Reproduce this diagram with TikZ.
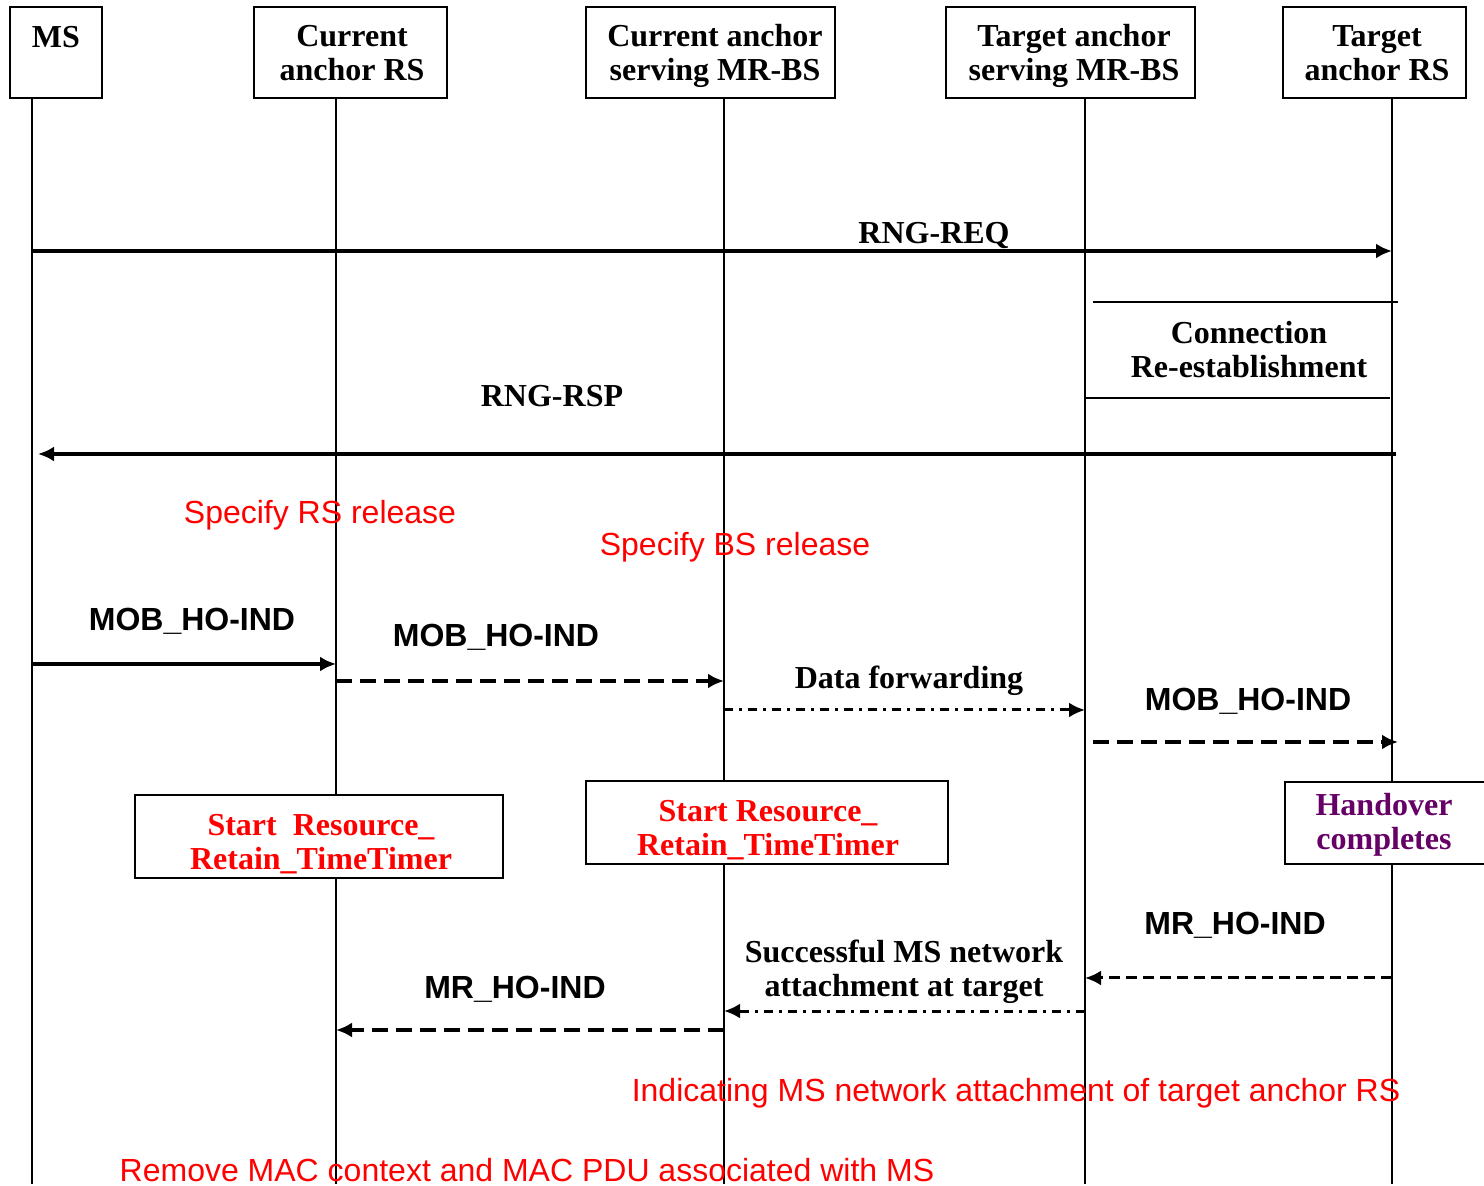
\documentclass[tikz,border=0pt]{standalone}
\usepackage{fontspec}
\setmainfont{Liberation Serif}
\setsansfont{Liberation Sans}
\usetikzlibrary{arrows.meta}
\definecolor{hopurple}{RGB}{102,0,102}

\begin{document}
\begin{tikzpicture}[x=0.5pt, y=-0.5pt,
    box/.style={line width=1pt},
    lbl/.style={align=center, text height=12pt, text depth=5pt, font=\bfseries\fontsize{16}{17}\selectfont},
    mlbl/.style={align=center, font=\bfseries\fontsize{16}{17}\selectfont},
    slbl/.style={text height=12pt, text depth=5pt, font=\sffamily\bfseries\fontsize{16}{17}\selectfont},
    note/.style={text=red, text height=12pt, text depth=5pt, font=\sffamily\fontsize{16}{17}\selectfont},
    life/.style={line width=0.9pt},
    msg/.style={line width=1.6pt, -{Latex[length=8pt,width=7.5pt]}},
    dmsg/.style={msg, dash pattern=on 8pt off 4pt},
    ddmsg/.style={msg, line width=1.5pt, dash pattern=on 4.5pt off 3pt on 1.5pt off 3pt}]
      \useasboundingbox (0,0) rectangle (1484,1186);

      \coordinate (ms) at (32,0);
      \coordinate (crs) at (336,0);
      \coordinate (cbs) at (724,0);
      \coordinate (tbs) at (1085,0);
      \coordinate (trs) at (1392,0);
      \foreach \n in {ms,crs,cbs,tbs,trs}
        \draw[life] (\n |- 0,98) -- (\n |- 0,1184);

      \draw[box] (10,7) rectangle (102,98);
      \draw[box] (254,7) rectangle (447,98);
      \draw[box] (586,7) rectangle (835,98);
      \draw[box] (946,7) rectangle (1195,98);
      \draw[box] (1283,7) rectangle (1466,98);
      \node[lbl] (mshead) at (56,41) {MS};
      \node[mlbl] (crshead) at (352,56.5) {\strut Current\\\strut anchor RS};
      \node[mlbl] (cbshead) at (715,56.5) {\strut Current anchor\\\strut serving MR-BS};
      \node[mlbl] (tbshead) at (1074,56.5) {\strut Target anchor\\\strut serving MR-BS};
      \node[mlbl] (trshead) at (1377,56.5) {\strut Target\\\strut anchor RS};

      \node[lbl] (rngreq) at (934,237) {RNG-REQ};
      \draw[msg] (ms |- 0,251) -- (trs |- 0,251);

      \draw[box] (tbs |- 0,302) ++(8,0) -- (1398,302);
      \draw[box] (tbs |- 0,398) -- (1390,398);
      \node[mlbl] (reest) at (1249,354) {\strut Connection\\\strut Re-establishment};

      \node[lbl] (rngrsp) at (552,400) {RNG-RSP};
      \draw[msg, shorten <=-2pt, shorten >=3pt] (trs |- 0,454) -- (ms |- 0,454);

      \node[note] (rsrel) at (320,517) {Specify RS release};
      \node[note] (bsrel) at (735,549) {Specify BS release};

      \node[slbl] (hoind1) at (192,624) {MOB\_HO-IND};
      \draw[msg] (ms |- 0,664) -- (crs |- 0,664);
      \node[slbl] (hoind2) at (496,640) {MOB\_HO-IND};
      \draw[dmsg] (crs |- 0,681) -- (cbs |- 0,681);
      \node[lbl] (fwd) at (909,682) {Data forwarding};
      \draw[ddmsg] (cbs |- 0,710) -- (tbs |- 0,710);
      \node[slbl] (hoind3) at (1248,704) {MOB\_HO-IND};
      \draw[dmsg, shorten <=4pt, shorten >=-3pt] (tbs |- 0,742) -- (trs |- 0,742);

      \draw[box, fill=white] (135,795) rectangle (503,878);
      \draw[box, fill=white] (586,781) rectangle (948,864);
      \draw[box, fill=white] (1490,782) -- (1285,782) -- (1285,864) -- (1490,864);
      \node[mlbl, text=red] (timer1) at (321,846) {\strut Start\ \ Resource\_\\\strut Retain\_TimeTimer};
      \node[mlbl, text=red] (timer2) at (768,831.5) {\strut Start Resource\_\\\strut Retain\_TimeTimer};
      \node[mlbl, text=hopurple] (hodone) at (1384,826) {\strut Handover\\\strut completes};

      \node[slbl] (mrind1) at (1235,928) {MR\_HO-IND};
      \draw[dmsg, line width=1.5pt, dash pattern=on 5.5pt off 3pt] (trs |- 0,978) -- (tbs |- 0,978);
      \node[mlbl] (attach) at (904,973) {\strut Successful MS network\\\strut attachment at target};
      \draw[ddmsg] (tbs |- 0,1011) -- (cbs |- 0,1011);
      \node[slbl] (mrind2) at (515,992) {MR\_HO-IND};
      \draw[dmsg] (cbs |- 0,1030) -- (crs |- 0,1030);

      \node[note] (indic) at (1016,1094) {Indicating MS network attachment of target anchor RS};
      \node[note] (remove) at (527,1174) {Remove MAC context and MAC PDU associated with MS};
    \end{tikzpicture}
\end{document}
